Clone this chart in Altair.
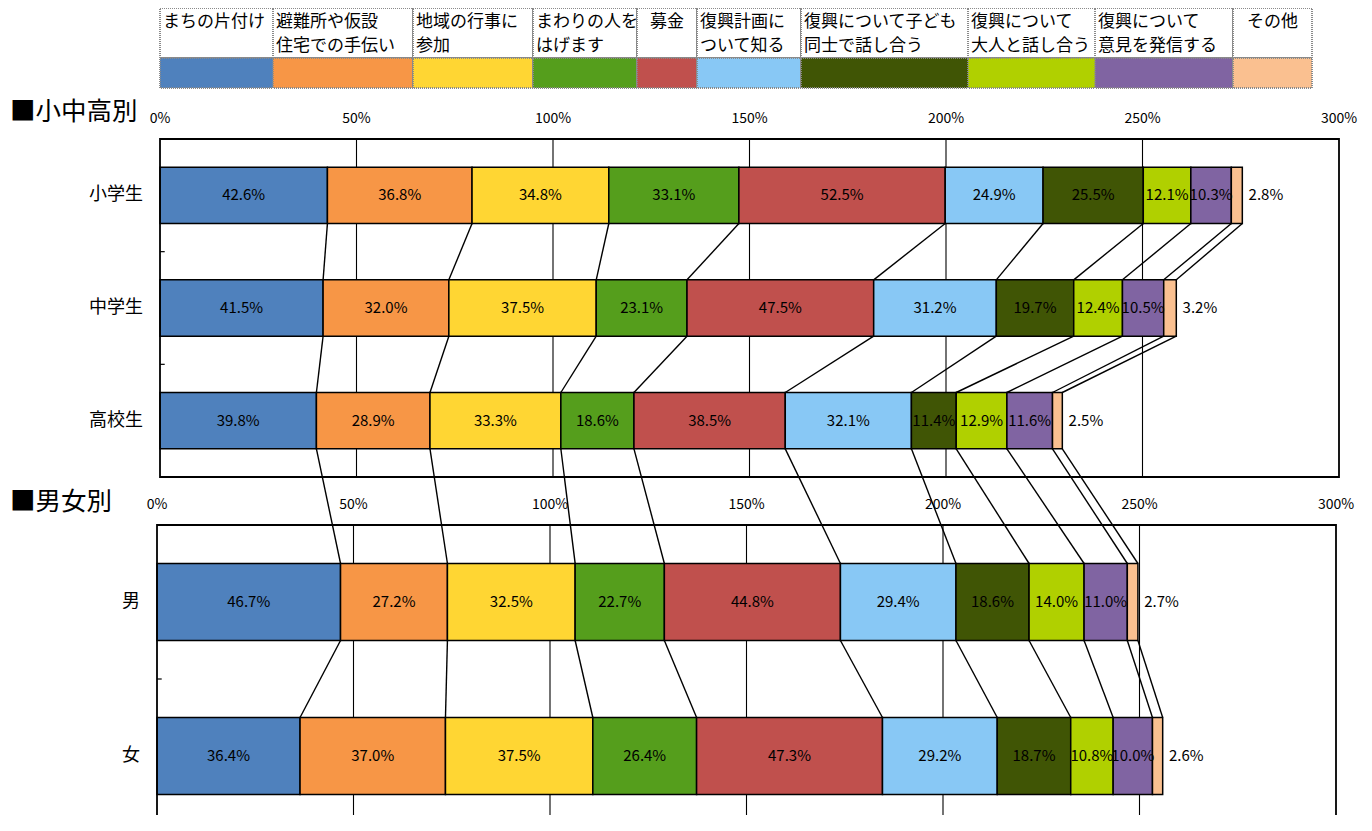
import altair as alt
import pandas as pd

# ---------------- data ----------------
categories = ["まちの片付け", "避難所や仮設住宅での手伝い", "地域の行事に参加", "まわりの人をはげます",
              "募金", "復興計画について知る", "復興について子ども同士で話し合う",
              "復興について大人と話し合う", "復興について意見を発信する", "その他"]
legend_labels = ["まちの片付け", "避難所や仮設\n住宅での手伝い", "地域の行事に\n参加", "まわりの人を\nはげます",
                 "募金", "復興計画に\nついて知る", "復興について子ども\n同士で話し合う",
                 "復興について\n大人と話し合う", "復興について\n意見を発信する", "その他"]
colors = ["#4F81BD", "#F79646", "#FFD633", "#559E1C", "#C0504D",
          "#88C8F5", "#405505", "#B0D000", "#8064A2", "#FAC090"]

school_groups = ["小学生", "中学生", "高校生"]
school_values = [
    [42.6, 36.8, 34.8, 33.1, 52.5, 24.9, 25.5, 12.1, 10.3, 2.8],
    [41.5, 32.0, 37.5, 23.1, 47.5, 31.2, 19.7, 12.4, 10.5, 3.2],
    [39.8, 28.9, 33.3, 18.6, 38.5, 32.1, 11.4, 12.9, 11.6, 2.5],
]
gender_groups = ["男", "女"]
gender_values = [
    [46.7, 27.2, 32.5, 22.7, 44.8, 29.4, 18.6, 14.0, 11.0, 2.7],
    [36.4, 37.0, 37.5, 26.4, 47.3, 29.2, 18.7, 10.8, 10.0, 2.6],
]
axis_ticks = [0, 50, 100, 150, 200, 250, 300]
section_titles = ["■小中高別", "■男女別"]

# ---------------- layout ----------------
FONT = "Noto Sans CJK JP"
W, H = 1179, 676
PAD_L, PAD_T = 152, 131
PX = W / 300.0
TOP_BAND = 338 / 3.0
BOT_START = 386.0
BOT_BAND = 154.0
BOT_SHIFT = -3
legend_edges_px = [160, 273, 413, 533, 637, 697, 801, 968, 1095, 1233, 1312]


def u(px):
    return (px - (PAD_L + 8)) / PX


rows = []
for i, (g, vals) in enumerate(zip(school_groups, school_values)):
    rows.append(dict(group=g, vals=vals, c=TOP_BAND * (i + 0.5), h=TOP_BAND / 4, panel="top"))
for i, (g, vals) in enumerate(zip(gender_groups, gender_values)):
    rows.append(dict(group=g, vals=vals, c=BOT_START + BOT_BAND * (i + 0.5), h=BOT_BAND / 4, panel="bottom"))
for r in rows:
    cum = [0.0]
    for v in r["vals"]:
        cum.append(cum[-1] + v)
    r["cum"] = cum

bar_recs = []
for r in rows:
    for k, cat in enumerate(categories):
        s, e = r["cum"][k], r["cum"][k + 1]
        lx = (s + e) / 2 if k < len(categories) - 1 else e + 6
        bar_recs.append(dict(panel=r["panel"], group=r["group"], cat=cat, start=s, end=e,
                             y0=r["c"] - r["h"], y1=r["c"] + r["h"], yc=r["c"], lx=lx,
                             label=f"{r['vals'][k]:.1f}%"))
bars = pd.DataFrame(bar_recs)

conn_recs = []
for a, b in zip(rows[:-1], rows[1:]):
    kind = a["panel"] if a["panel"] == b["panel"] else "cross"
    for k in range(1, len(categories) + 1):
        conn_recs.append(dict(kind=kind, x=a["cum"][k], x2=b["cum"][k],
                              y=a["c"] + a["h"], y2=b["c"] - b["h"]))
conn = pd.DataFrame(conn_recs)

top_bottom = 3 * TOP_BAND
bot_end = BOT_START + 2 * BOT_BAND
grid = pd.DataFrame(
    [dict(panel="top", x=t, y0=0, y1=top_bottom) for t in axis_ticks[1:-1]] +
    [dict(panel="bottom", x=t, y0=BOT_START, y1=bot_end) for t in axis_ticks[1:-1]])
frames = pd.DataFrame([dict(panel="top", x0=0, x1=300, y0=0, y1=top_bottom),
                       dict(panel="bottom", x0=0, x1=300, y0=BOT_START, y1=bot_end)])
ticks = pd.DataFrame([dict(panel="top", y=TOP_BAND * 1), dict(panel="top", y=TOP_BAND * 2),
                      dict(panel="bottom", y=BOT_START + BOT_BAND)])
ticks["x0"] = 0
ticks["x1"] = 1.2
axis_lab = pd.DataFrame(
    [dict(panel="top", x=t, y=-20, t=f"{t}%") for t in axis_ticks] +
    [dict(panel="bottom", x=t, y=BOT_START - 20, t=f"{t}%") for t in axis_ticks])
cat_lab = pd.DataFrame([dict(panel=r["panel"], t=r["group"], y=r["c"], x=0) for r in rows])
titles = pd.DataFrame([dict(t=section_titles[0], x=u(10), y=-27),
                       dict(t=section_titles[1], x=u(10), y=BOT_START - 23)])

leg_recs = []
for k, (cat, lab) in enumerate(zip(categories, legend_labels)):
    x0, x1 = u(legend_edges_px[k]), u(legend_edges_px[k + 1])
    leg_recs.append(dict(cat=cat, t=lab, x0=x0, x1=x1, xm=(x0 + x1) / 2,
                         center=len(lab) <= 3))
leg = pd.DataFrame(leg_recs)
leg["ty0"], leg["ty1"] = -131, -81
leg["cy0"], leg["cy1"] = -81, -51
leg["ty"] = -125

XS = alt.Scale(domain=[0, 300], nice=False, zero=False)
YS = alt.Scale(domain=[0, H], reverse=True, nice=False, zero=False)
CS = alt.Scale(domain=categories, range=colors)


def X(f):
    return alt.X(f, type="quantitative", scale=XS, axis=None)


def Y(f):
    return alt.Y(f, type="quantitative", scale=YS, axis=None)


layers = []
# gridlines
for panel, off in (("top", 0), ("bottom", BOT_SHIFT)):
    layers.append(alt.Chart(grid[grid.panel == panel]).mark_rule(
        color="black", strokeWidth=1.1, xOffset=off, x2Offset=off).encode(
        x=X("x"), y=Y("y0"), y2=alt.Y2("y1")))
# bars
for panel, off in (("top", 0), ("bottom", BOT_SHIFT)):
    layers.append(alt.Chart(bars[bars.panel == panel]).mark_rect(
        stroke="black", strokeWidth=1.5, xOffset=off, x2Offset=off).encode(
        x=X("start"), x2=alt.X2("end"), y=Y("y0"), y2=alt.Y2("y1"),
        color=alt.Color("cat:N", scale=CS, legend=None)))
# frames
for panel, off in (("top", 0), ("bottom", BOT_SHIFT)):
    layers.append(alt.Chart(frames[frames.panel == panel]).mark_rect(
        fillOpacity=0, stroke="black", strokeWidth=1.8, xOffset=off, x2Offset=off).encode(
        x=X("x0"), x2=alt.X2("x1"), y=Y("y0"), y2=alt.Y2("y1")))
# connector lines
for kind, o1, o2 in (("top", 0, 0), ("cross", 0, BOT_SHIFT), ("bottom", BOT_SHIFT, BOT_SHIFT)):
    layers.append(alt.Chart(conn[conn.kind == kind]).mark_rule(
        color="black", strokeWidth=1.4, xOffset=o1, x2Offset=o2).encode(
        x=X("x"), x2=alt.X2("x2"), y=Y("y"), y2=alt.Y2("y2")))
# ticks
for panel, off in (("top", 0), ("bottom", BOT_SHIFT)):
    layers.append(alt.Chart(ticks[ticks.panel == panel]).mark_rule(
        color="black", strokeWidth=1.2, xOffset=off, x2Offset=off).encode(
        x=X("x0"), x2=alt.X2("x1"), y=Y("y")))
# value labels
for panel, off in (("top", 0), ("bottom", BOT_SHIFT)):
    layers.append(alt.Chart(bars[bars.panel == panel]).mark_text(
        font=FONT, fontSize=15, color="black", align="center", baseline="middle", dx=off).encode(
        x=X("lx"), y=Y("yc"), text="label:N"))
# axis labels
for panel, off in (("top", 0), ("bottom", BOT_SHIFT)):
    layers.append(alt.Chart(axis_lab[axis_lab.panel == panel]).mark_text(
        font=FONT, fontSize=14, color="black", align="center", baseline="middle", dx=off).encode(
        x=X("x"), y=Y("y"), text="t:N"))
# category labels
for panel, off in (("top", 0), ("bottom", BOT_SHIFT)):
    layers.append(alt.Chart(cat_lab[cat_lab.panel == panel]).mark_text(
        font=FONT, fontSize=18, color="black", align="right", baseline="middle", dx=-17 + off).encode(
        x=X("x"), y=Y("y"), text="t:N"))
# section titles
layers.append(alt.Chart(titles).mark_text(
    font=FONT, fontSize=25.5, color="black", align="left", baseline="middle").encode(
    x=X("x"), y=Y("y"), text="t:N"))
# legend table
layers.append(alt.Chart(leg).mark_rect(
    fill="white", stroke="#8a8a8a", strokeWidth=2, strokeDash=[1, 1]).encode(
    x=X("x0"), x2=alt.X2("x1"), y=Y("ty0"), y2=alt.Y2("ty1")))
layers.append(alt.Chart(leg).mark_rect(
    stroke="#8a8a8a", strokeWidth=2, strokeDash=[1, 1]).encode(
    x=X("x0"), x2=alt.X2("x1"), y=Y("cy0"), y2=alt.Y2("cy1"),
    color=alt.Color("cat:N", scale=CS, legend=None)))
layers.append(alt.Chart(leg[~leg.center]).mark_text(
    font=FONT, fontSize=17, color="black", align="left", baseline="top",
    lineBreak="\n", lineHeight=24, dx=3).encode(
    x=X("x0"), y=Y("ty"), text="t:N"))
layers.append(alt.Chart(leg[leg.center]).mark_text(
    font=FONT, fontSize=17, color="black", align="center", baseline="top",
    lineBreak="\n", lineHeight=24).encode(
    x=X("xm"), y=Y("ty"), text="t:N"))

chart = alt.layer(*layers).properties(
    width=W, height=H,
    padding={"left": PAD_L, "top": PAD_T, "right": 20, "bottom": 0},
    autosize=alt.AutoSizeParams(type="none"),
).configure_view(stroke=None)

chart.save("out.html", embed_options={"renderer": "svg", "actions": False})
